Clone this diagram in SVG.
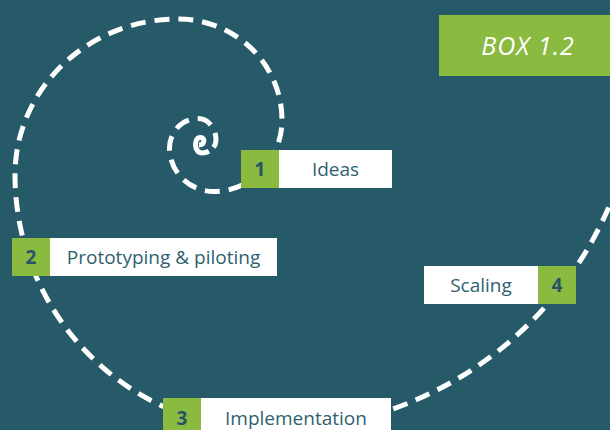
<svg xmlns="http://www.w3.org/2000/svg" width="610" height="430" viewBox="0 0 610 430">
  <style>
    .spiral { fill: none; stroke: #ffffff; stroke-width: 5; }
    .dash { stroke-dasharray: 15 9; }
    .num-bg { fill: #8aba3f; }
    .lbl-bg { fill: #ffffff; }
    .num { font-family: "Open Sans", "Noto Sans", sans-serif; font-size: 19px; font-weight: bold; fill: #275466; text-anchor: middle; }
    .lbl { font-family: "Open Sans", "Noto Sans", sans-serif; font-size: 19px; fill: #2f5f6f; text-anchor: middle; }
    .box-title { font-family: "Open Sans", "Noto Sans", sans-serif; font-size: 25px; font-style: italic; letter-spacing: 1px; fill: #ffffff; text-anchor: middle; }
  </style>
  <rect x="0" y="0" width="610" height="430" fill="#275a69"/>

  <g id="connectors">
    <path class="spiral" d="M 199 145 C 204 145, 206 138.5, 201 137.5 C 197 137, 195.5 141, 195.5 145 A 6.5 8 0 0 0 202 153 A 14 13 0 0 0 209 151.3"/>
    <path class="spiral dash" stroke-dashoffset="18" d="M 209 151.3 A 14 13 0 0 0 216 140 A 18 21.5 0 0 0 198 118.5 A 28.5 29.5 0 0 0 169.5 148 A 44.5 43.5 0 0 0 214 191.5 A 68 71.5 0 0 0 282 120 A 104 101 0 0 0 178 19 A 163 156 0 0 0 15 175 A 255 255 0 0 0 270 430 A 369 369 0 0 0 639 61"/>
  </g>

  <g id="box-title">
    <rect x="439" y="15" width="171" height="61" fill="#8aba3f"/>
    <text class="box-title" x="528" y="55">BOX 1.2</text>
  </g>

  <g id="node-1">
    <rect class="num-bg" x="241" y="150" width="38" height="38"/>
    <rect class="lbl-bg" x="279" y="150" width="113" height="38"/>
    <text class="num" x="260" y="176">1</text>
    <text class="lbl" x="335.5" y="176">Ideas</text>
  </g>

  <g id="node-2">
    <rect class="num-bg" x="12" y="238" width="38" height="38"/>
    <rect class="lbl-bg" x="50" y="238" width="227" height="38"/>
    <text class="num" x="31" y="264">2</text>
    <text class="lbl" x="163.5" y="264">Prototyping &amp; piloting</text>
  </g>

  <g id="node-3">
    <rect class="num-bg" x="163" y="398" width="38" height="38"/>
    <rect class="lbl-bg" x="201" y="398" width="190" height="38"/>
    <text class="num" x="182" y="425">3</text>
    <text class="lbl" x="296" y="425">Implementation</text>
  </g>

  <g id="node-4">
    <rect class="lbl-bg" x="424" y="266" width="114" height="38"/>
    <rect class="num-bg" x="538" y="266" width="38" height="38"/>
    <text class="lbl" x="481" y="292">Scaling</text>
    <text class="num" x="557" y="292">4</text>
  </g>
</svg>
